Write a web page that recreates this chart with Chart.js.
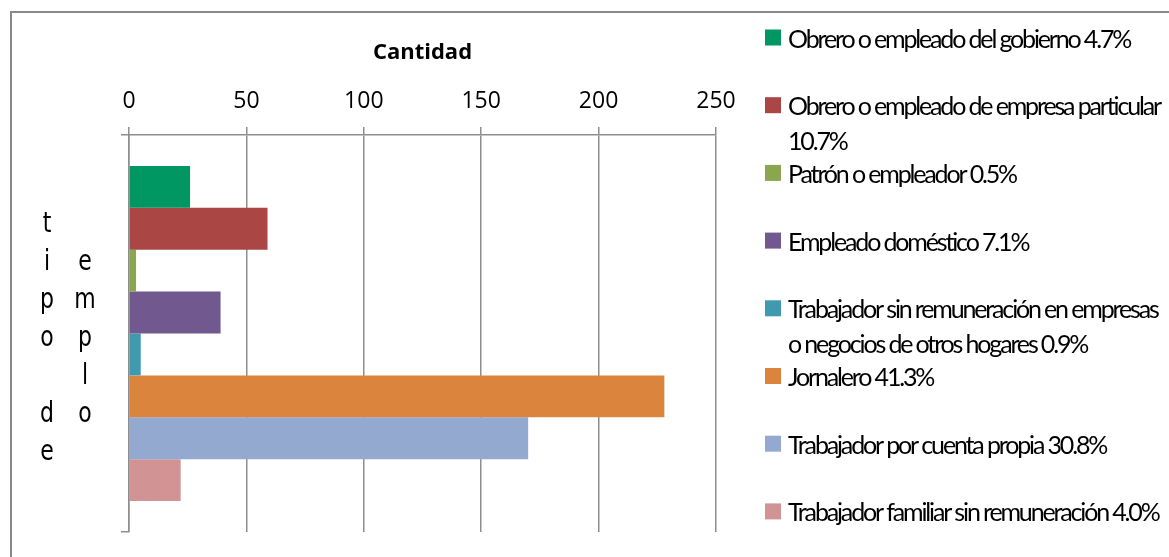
<!DOCTYPE html>
<html>
<head>
<meta charset="utf-8">
<script src="https://cdn.jsdelivr.net/npm/chart.js@4.4.0/dist/chart.umd.min.js"></script>
<style>
  html, body { margin: 0; padding: 0; background: #fff; }
</style>
</head>
<body>
<canvas id="myChart" width="1169" height="557"></canvas>
<script>
const categories = ['tipo de empleo'];
const seriesLabels = [
    ['Obrero o empleado del gobierno 4.7%'],
    ['Obrero o empleado de empresa particular', '10.7%'],
    ['Patrón o empleador 0.5%'],
    ['Empleado doméstico 7.1%'],
    ['Trabajador sin remuneración en empresas', 'o negocios de otros hogares 0.9%'],
    ['Jornalero 41.3%'],
    ['Trabajador por cuenta propia 30.8%'],
    ['Trabajador familiar sin remuneración 4.0%']
];
const seriesValues = [26, 59, 3, 39, 5, 228, 170, 22];
const seriesColors = ['#009763', '#AA4744', '#8AA64F', '#71588F', '#4199B0', '#DB843D', '#94A9D0', '#D19393'];
const xTicks = [0, 50, 100, 150, 200, 250];
// the axis title is wrapped by letters in two columns in the original
const yTitleColumns = ['tipo de', ' emplo'];

const extras = {
    id: 'extras',
    beforeDraw(chart) {
        const c = chart.ctx;
        c.save();
        c.strokeStyle = '#888888';
        c.lineWidth = 2;
        c.beginPath();
        c.moveTo(11, chart.height);
        c.lineTo(11, 12);
        c.lineTo(chart.width, 12);
        c.stroke();
        c.restore();
    },
    afterDraw(chart) {
        const c = chart.ctx;
        c.save();
        c.fillStyle = '#000';
        c.textAlign = 'center';
        c.textBaseline = 'middle';
        c.font = '22px "DejaVu Sans"';
        yTitleColumns.forEach((col, ci) => {
            [...col].forEach((ch, ri) => {
                c.save();
                c.translate(47 + ci * 38, 225 + ri * 38);
                c.scale(1, 1.3);
                c.fillText(ch, 0, 0);
                c.restore();
            });
        });

        // legend
        c.font = '25px Lato';
        c.textAlign = 'left';
        c.letterSpacing = '0px';
        const first = seriesLabels[0][0];
        const natural = c.measureText(first).width;
        c.letterSpacing = ((342 - natural) / first.length).toFixed(2) + 'px';
        chart.data.datasets.forEach((ds, i) => {
            const cy = 37.5 + i * 67.7;
            c.fillStyle = ds.backgroundColor;
            c.fillRect(765, cy - 8, 16, 16);
            c.fillStyle = '#000';
            seriesLabels[i].forEach((line, li) => {
                c.fillText(line, 788, cy + 2 + li * 35);
            });
        });
        c.restore();
    }
};

const ctx = document.getElementById('myChart');
new Chart(ctx, {
    type: 'bar',
    data: {
        labels: categories,
        datasets: seriesValues.map((v, i) => ({
            label: seriesLabels[i].join(' '),
            data: [v],
            backgroundColor: seriesColors[i],
            borderWidth: 0,
            barPercentage: 1,
            categoryPercentage: 0.844
        }))
    },
    options: {
        indexAxis: 'y',
        responsive: false,
        animation: false,
        devicePixelRatio: 1,
        layout: { padding: { left: 0, top: 0, right: 453, bottom: 25 } },
        plugins: {
            legend: { display: false },
            tooltip: { enabled: false }
        },
        scales: {
            x: {
                position: 'top',
                min: 0,
                max: 250,
                afterBuildTicks: s => { s.ticks = xTicks.map(v => ({ value: v })); },
                afterFit: s => { s.height = 135; },
                ticks: {
                    color: '#000',
                    padding: 12,
                    font: { family: '"Open Sans"', size: 23 }
                },
                grid: { color: '#8e8e8e', lineWidth: 1.5, tickLength: 8 },
                border: { display: true, color: '#8e8e8e', width: 1.5 },
                title: {
                    display: true,
                    text: 'Cantidad',
                    color: '#000',
                    padding: { top: 40, bottom: 0 },
                    font: { family: '"Open Sans"', size: 22, weight: 'bold' }
                }
            },
            y: {
                afterFit: s => { s.width = 129; },
                ticks: { display: false },
                grid: { drawOnChartArea: false, drawTicks: true, tickLength: 8, color: '#8e8e8e', lineWidth: 1.5, offset: true },
                border: { display: true, color: '#8e8e8e', width: 1.5 }
            }
        }
    },
    plugins: [extras]
});
</script>
</body>
</html>
